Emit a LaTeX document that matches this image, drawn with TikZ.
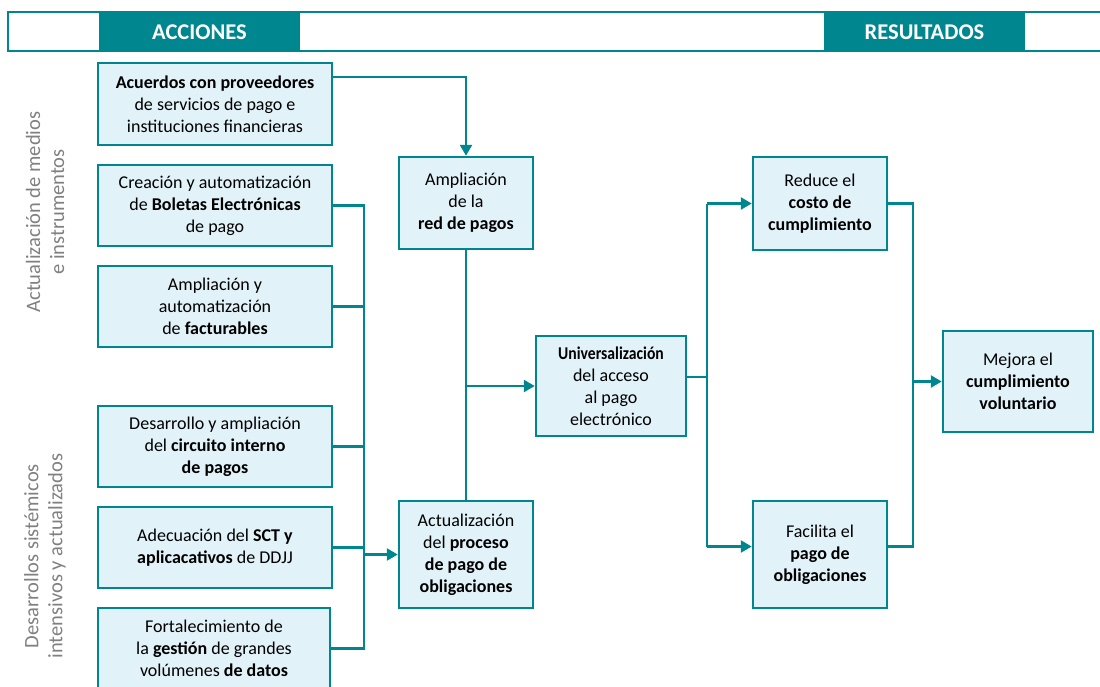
\documentclass[tikz,border=0pt]{standalone}
\usepackage{fontspec}
\usepackage{graphicx}
\setmainfont{Carlito}
\usetikzlibrary{arrows.meta,calc}
\definecolor{teal}{RGB}{0,134,143}
\definecolor{boxfill}{RGB}{225,242,249}
\definecolor{lblgray}{RGB}{128,128,128}
\begin{document}
\begin{tikzpicture}[x=1pt,y=-1pt,
  box/.style={draw=teal,fill=boxfill,line width=2.5pt,align=center,inner sep=2pt,
    font=\fontsize{18}{22}\selectfont},
  conn/.style={draw=teal,line width=2.5pt},
  arr/.style={draw=teal,line width=2.5pt,-{Triangle[length=11pt,width=12pt]}},
  hdr/.style={text=white,font=\fontsize{22.5}{24}\selectfont\bfseries},
  side/.style={rotate=90,align=center,text=lblgray,font=\fontsize{20.5}{24}\selectfont}
]
\useasboundingbox (0,0) rectangle (1100,686);
% header
\draw[teal,line width=2pt,fill=white] (8,12) rectangle (1115,51);
\fill[teal] (99,11) rectangle (300,52);
\fill[teal] (824,11) rectangle (1025,52);
\node[hdr] (acc) at (199.5,32) {ACCIONES};
\node[hdr] (res) at (924.5,32) {RESULTADOS};
% side labels
\node[side] (s1) at (45,212) {Actualización de medios\\e instrumentos};
\node[side] (s2) at (45,556) {Desarrollos sistémicos\\intensivos y actualizados};
% left boxes
\node[box,minimum width=234pt,minimum height=82pt] (b1) at (215,104) {\textbf{Acuerdos con proveedores}\\de servicios de pago e\\instituciones financieras};
\node[box,minimum width=234pt,minimum height=81pt] (b2) at (215,205.5) {Creación y automatización\\de \textbf{Boletas Electrónicas}\\de pago};
\node[box,minimum width=234pt,minimum height=81pt] (b3) at (215,306.5) {Ampliación y\\automatización\\de \textbf{facturables}};
\node[box,minimum width=234pt,minimum height=81pt] (b4) at (215,446.5) {Desarrollo y ampliación\\del \textbf{circuito interno}\\\textbf{de pagos}};
\node[box,minimum width=234pt,minimum height=81pt] (b5) at (215,547.5) {Adecuación del \textbf{SCT y}\\\textbf{aplicacativos} de DDJJ};
\node[box,minimum width=232pt,minimum height=81pt] (b6) at (214,648.5) {Fortalecimiento de\\la \textbf{gestión} de grandes\\volúmenes \textbf{de datos}};
% middle
\node[box,minimum width=134pt,minimum height=92pt] (red) at (466,203) {Ampliación\\de la\\\textbf{red de pagos}};
\node[box,minimum width=134pt,minimum height=107pt] (act) at (466,554.5) {Actualización\\del \textbf{proceso}\\\textbf{de pago de}\\\textbf{obligaciones}};
\node[box,minimum width=150pt,minimum height=100pt] (uni) at (611,386) {\scalebox{0.87}[1]{\textbf{Universalización}}\\del acceso\\al pago\\electrónico};
% right
\node[box,minimum width=134pt,minimum height=93pt] (red2) at (820,203.5) {Reduce el\\\textbf{costo de}\\\textbf{cumplimiento}};
\node[box,minimum width=134pt,minimum height=107pt] (fac) at (820,554.5) {Facilita el\\\textbf{pago de}\\\textbf{obligaciones}};
\node[box,minimum width=150pt,minimum height=101pt] (mej) at (1018,381.5) {Mejora el\\\textbf{cumplimiento}\\\textbf{voluntario}};
% bus coordinates
\coordinate (busL) at (364,0);
\coordinate (busR1) at (707,0);
\coordinate (busR2) at (913,0);
% connectors left
\draw[arr] ([yshift=27pt]b1.east) -| (red.north);
\draw[conn] (b2.east) -- (b2.east -| busL) -- (b6.east -| busL) -- (b6.east);
\draw[conn] (b3.east) -- (b3.east -| busL);
\draw[conn] (b4.east) -- (b4.east -| busL);
\draw[conn] (b5.east) -- (b5.east -| busL);
\draw[arr] (act.west -| busL) -- (act.west);
% middle connectors
\draw[conn] (red.south) -- (act.north);
\draw[arr] (uni.west -| red.south) -- (uni.west);
% right connectors
\draw[conn] ([yshift=9pt]uni.east) -- ([yshift=9pt]uni.east -| busR1);
\draw[conn] (red2.west -| busR1) -- ([yshift=8pt]fac.west -| busR1);
\draw[arr] (red2.west -| busR1) -- (red2.west);
\draw[arr] ([yshift=8pt]fac.west -| busR1) -- ([yshift=8pt]fac.west);
\draw[conn] (red2.east) -- (red2.east -| busR2) -- ([yshift=8pt]fac.east -| busR2) -- ([yshift=8pt]fac.east);
\draw[arr] (mej.west -| busR2) -- (mej.west);
\end{tikzpicture}
\end{document}
